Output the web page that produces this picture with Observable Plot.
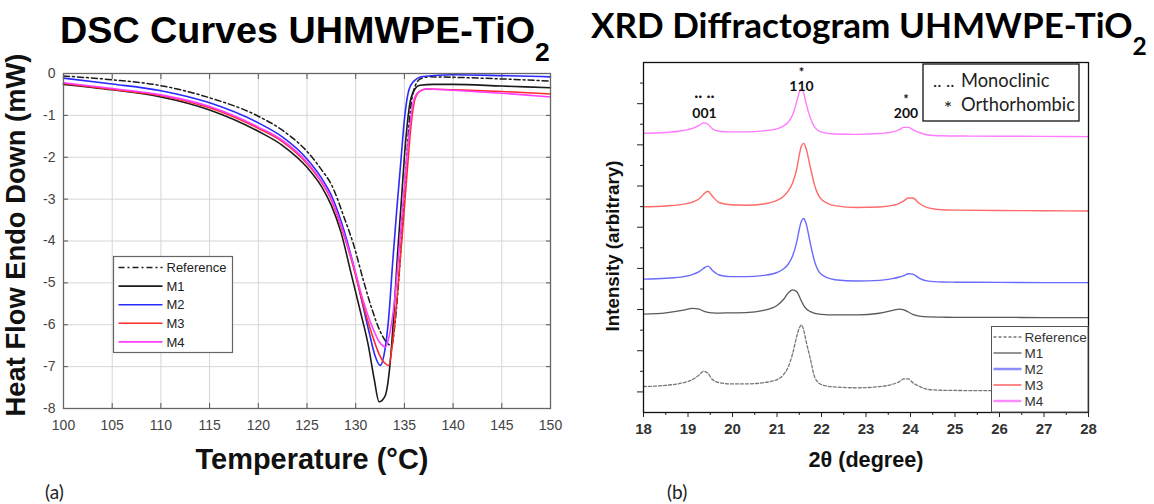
<!DOCTYPE html>
<html><head><meta charset="utf-8">
<script src="https://cdn.jsdelivr.net/npm/d3@7"></script>
<script src="https://cdn.jsdelivr.net/npm/@observablehq/plot@0.6"></script>
<style>
body{margin:0;background:#fff;}
#root{position:relative;width:1154px;height:504px;overflow:hidden;background:#fff;}
</style></head><body><div id="root"></div>
<script>
// ---------------- DSC data (panel a) ----------------
const dscSeries = ["Reference", "M1", "M2", "M3", "M4"];
const dscRefT = [100,105,110,115,120,122.5,125,126.5,127.5,128.8,129.8,130.8,131.7,132.5,133.1,133.7,134.0,134.4,134.8,135.2,135.6,136.1,136.7,137.5,140,145,150];
const dscRefV = [-0.06,-0.15,-0.29,-0.58,-1.02,-1.36,-1.86,-2.3,-2.65,-3.43,-4.1,-4.95,-5.65,-6.15,-6.4,-6.5,-6.05,-5.0,-3.6,-2.1,-0.9,-0.3,-0.12,-0.08,-0.09,-0.13,-0.18];
const dscM1T = [100,105,110,115,120,122.5,125,126.5,127.5,128.5,129.5,130.5,131.3,131.9,132.4,133.0,133.5,133.9,134.3,134.7,135.1,135.5,136.0,136.6,138,140,145,150];
const dscM1V = [-0.26,-0.39,-0.56,-0.87,-1.38,-1.72,-2.24,-2.7,-3.15,-3.8,-4.75,-5.7,-6.5,-7.3,-7.84,-7.71,-7.0,-5.8,-4.3,-3.0,-1.7,-0.8,-0.4,-0.28,-0.26,-0.26,-0.3,-0.34];
const dscM2T = [100,105,110,115,120,122.5,125,126.5,127.5,128.8,129.8,130.7,131.4,132.0,132.5,133.0,133.4,133.8,134.2,134.6,135.0,135.4,135.9,136.9,140,145,150];
const dscM2V = [-0.11,-0.25,-0.41,-0.70,-1.18,-1.52,-2.04,-2.5,-2.91,-3.75,-4.6,-5.5,-6.2,-6.75,-6.97,-6.6,-5.8,-4.5,-3.3,-2.2,-1.1,-0.45,-0.2,-0.07,-0.03,-0.05,-0.08];
const dscM3T = [100,105,110,115,120,122.5,125,126.5,127.5,128.8,129.8,130.8,131.7,132.4,133.0,133.4,133.8,134.3,134.8,135.3,135.7,136.1,136.6,137.3,140,145,150];
const dscM3V = [-0.24,-0.38,-0.53,-0.82,-1.31,-1.63,-2.15,-2.6,-3.02,-3.87,-4.65,-5.55,-6.25,-6.7,-6.92,-6.97,-6.4,-5.2,-3.8,-2.3,-1.2,-0.6,-0.42,-0.37,-0.39,-0.43,-0.49];
const dscM4T = [100,105,110,115,120,122.5,125,126.5,127.5,128.8,129.8,130.8,131.7,132.4,133.06,133.5,134.0,134.5,135.0,135.5,135.9,136.4,137.2,140,145,150];
const dscM4V = [-0.22,-0.36,-0.51,-0.79,-1.28,-1.6,-2.12,-2.58,-2.99,-3.83,-4.6,-5.45,-6.05,-6.4,-6.53,-6.2,-5.4,-4.1,-2.7,-1.4,-0.7,-0.45,-0.37,-0.4,-0.47,-0.56];
const dscXTicks = [100,105,110,115,120,125,130,135,140,145,150];
const dscYTicks = [0,-1,-2,-3,-4,-5,-6,-7,-8];

// ---------------- XRD data (panel b) ----------------
const xrdSeries = ["Reference", "M1", "M2", "M3", "M4"];
const xrdTheta = [18,18.5,18.9,19.1,19.25,19.35,19.45,19.55,19.7,19.95,20.3,20.7,21.0,21.15,21.25,21.35,21.45,21.5,21.55,21.6,21.65,21.75,21.85,22.0,22.3,22.8,23.3,23.6,23.75,23.85,23.95,24.05,24.2,24.4,24.7,25.0,26.0,27.0,28.0];
const xrdRef = [1.26,1.32,1.45,1.6,1.82,2.0,1.9,1.6,1.45,1.39,1.39,1.45,1.6,1.85,2.2,2.85,3.75,4.1,4.25,4.0,3.5,2.6,1.7,1.35,1.24,1.2,1.26,1.37,1.5,1.63,1.63,1.45,1.27,1.12,1.08,1.07,1.06,1.05,1.05];
const xrdM1 = [4.78,4.84,4.97,5.06,5.02,4.92,4.86,4.84,4.83,4.84,4.85,4.96,5.2,5.5,5.8,5.96,5.85,5.65,5.4,5.2,5.05,4.9,4.82,4.77,4.74,4.74,4.82,4.96,5.02,4.98,4.88,4.77,4.68,4.64,4.63,4.62,4.62,4.61,4.61];
const xrdM2 = [6.48,6.52,6.6,6.7,6.84,7.0,7.11,6.9,6.68,6.6,6.6,6.66,6.8,6.98,7.2,7.6,8.35,8.9,9.3,9.42,9.2,8.2,7.3,6.7,6.45,6.39,6.42,6.5,6.58,6.65,6.74,6.72,6.52,6.38,6.34,6.33,6.32,6.31,6.31];
const xrdM3 = [9.99,10.03,10.12,10.22,10.38,10.6,10.75,10.5,10.2,10.09,10.07,10.13,10.3,10.5,10.75,11.15,11.9,12.5,12.95,13.07,12.85,11.9,11.0,10.35,10.05,9.96,9.98,10.06,10.16,10.28,10.42,10.42,10.15,9.94,9.85,9.83,9.81,9.8,9.79];
const xrdM4 = [13.56,13.6,13.7,13.8,13.95,14.07,14.0,13.78,13.66,13.63,13.63,13.68,13.78,13.92,14.1,14.45,15.15,15.55,15.72,15.5,15.05,14.3,13.85,13.62,13.53,13.51,13.55,13.63,13.74,13.85,13.85,13.74,13.6,13.48,13.44,13.43,13.42,13.41,13.4];
const xrdXTicks = [18,19,20,21,22,23,24,25,26,27,28];
const xrdXMinor = [18.5,19.5,20.5,21.5,22.5,23.5,24.5,25.5,26.5,27.5];
const xrdYMajor = [1,3,5,7,9,11,13,15];
const xrdYMinor = [2,4,6,8,10,12,14,16];
const peakLabels = ["001", "110", "200"];
const peakTheta = [19.37, 21.55, 23.9];
const phaseMarks = [".. ..", "*", "*"];

// ---------------- build tables ----------------
const dscArrays = {Reference:[dscRefT,dscRefV], M1:[dscM1T,dscM1V], M2:[dscM2T,dscM2V], M3:[dscM3T,dscM3V], M4:[dscM4T,dscM4V]};
const dscRows = dscSeries.flatMap(s => dscArrays[s][0].map((t,i) => ({series:s, T:t, V:dscArrays[s][1][i]})));
const xrdArrays = {Reference:xrdRef, M1:xrdM1, M2:xrdM2, M3:xrdM3, M4:xrdM4};
const xrdRows = xrdSeries.flatMap(s => xrdTheta.map((t,i) => ({series:s, theta:t, I:xrdArrays[s][i]})));
const peakAnn = peakLabels.map((label,i) => ({label, mark: phaseMarks[i], theta: peakTheta[i]}));

const dscStyle = {
  Reference:{stroke:"#1a1a1a", strokeDasharray:"6,3,2,3", strokeWidth:1.5},
  M1:{stroke:"#1a1a1a", strokeWidth:1.6},
  M2:{stroke:"#2a2aff", strokeWidth:1.6},
  M3:{stroke:"#ff2a2a", strokeWidth:1.6},
  M4:{stroke:"#ff3cff", strokeWidth:1.6}
};
const xrdStyle = {
  Reference:{stroke:"#777", strokeDasharray:"3,2", strokeWidth:1.3},
  M1:{stroke:"#5a5a5a", strokeWidth:1.3},
  M2:{stroke:"#6a6aff", strokeWidth:1.4},
  M3:{stroke:"#ff6a6a", strokeWidth:1.4},
  M4:{stroke:"#ff7cff", strokeWidth:1.4}
};

const root = document.getElementById("root");
function place(svg, left){ svg.style.position="absolute"; svg.style.left=left+"px"; svg.style.top="0px"; root.appendChild(svg); }

// ---------------- DSC plot ----------------
const dscPlot = Plot.plot({
  width: 560, height: 504, marginLeft: 63, marginRight: 10, marginTop: 73, marginBottom: 96,
  x: {domain: [100, 150]}, y: {domain: [-8, 0]},
  style: {fontFamily: "'Liberation Sans', Arial, sans-serif", fontSize: "14px", color: "#444", background: "transparent", overflow: "visible"},
  marks: [
    Plot.gridX(dscXTicks, {stroke: "#d6d6d6", strokeOpacity: 1}),
    Plot.gridY(dscYTicks, {stroke: "#d6d6d6", strokeOpacity: 1}),
    ...dscSeries.map(s => Plot.line(dscRows.filter(d => d.series === s), {x: "T", y: "V", curve: "monotone-x", ...dscStyle[s]})),
    Plot.axisX({ticks: dscXTicks, tickSize: 0, tickPadding: 12, tickFormat: d => String(d), label: null}),
    Plot.axisY({ticks: dscYTicks, tickSize: 0, tickPadding: 8, tickFormat: d => String(d), label: null}),
    Plot.axisX({anchor: "bottom", ticks: dscXTicks, tickSize: 5, dy: -5, tickFormat: () => "", label: null, stroke: "#555"}),
    Plot.axisX({anchor: "top", ticks: dscXTicks, tickSize: 5, dy: 5, tickFormat: () => "", label: null, stroke: "#555"}),
    Plot.axisY({anchor: "left", ticks: dscYTicks, tickSize: 5, dx: 5, tickFormat: () => "", label: null, stroke: "#555"}),
    Plot.axisY({anchor: "right", ticks: dscYTicks, tickSize: 5, dx: -5, tickFormat: () => "", label: null, stroke: "#555"}),
    Plot.frame({stroke: "#666", strokeWidth: 1.3})
  ]
});
place(dscPlot, 0);

// ---------------- XRD plot ----------------
const annFont = {fontFamily: "Lato, 'Open Sans', sans-serif", fontWeight: "bold", fill: "#111"};
const xrdPlot = Plot.plot({
  width: 574, height: 504, marginLeft: 63, marginRight: 66, marginTop: 62, marginBottom: 92,
  x: {domain: [18, 28]}, y: {domain: [0, 17]},
  style: {fontFamily: "'Liberation Sans', Arial, sans-serif", fontSize: "15px", color: "#222", background: "transparent", overflow: "visible"},
  marks: [
    ...xrdSeries.map(s => Plot.line(xrdRows.filter(d => d.series === s), {x: "theta", y: "I", curve: "monotone-x", ...xrdStyle[s]})),
    Plot.axisX({ticks: xrdXTicks, tickSize: 5, tickPadding: 6, tickFormat: d => String(d), label: null, fontWeight: "bold", fill: "#333"}),
    Plot.axisX({ticks: xrdXMinor, tickSize: 3, tickFormat: () => "", label: null}),
    Plot.axisY({ticks: xrdYMajor, tickSize: 6, tickFormat: () => "", label: null}),
    Plot.axisY({ticks: xrdYMinor, tickSize: 3, tickFormat: () => "", label: null}),
    Plot.frame({stroke: "#111", strokeWidth: 1.3}),
    Plot.text(peakAnn.filter(d => d.label !== "110"), {x: "theta", text: "label", frameAnchor: "top", dy: 46, fontSize: 14, ...annFont}),
    Plot.text(peakAnn.filter(d => d.label === "110"), {x: "theta", text: "label", frameAnchor: "top", dy: 19, fontSize: 14, ...annFont}),
    Plot.text(peakAnn.filter(d => d.label === "110"), {x: "theta", text: "mark", frameAnchor: "top", dy: 5, fontSize: 13, ...annFont}),
    Plot.text(peakAnn.filter(d => d.label === "200"), {x: "theta", text: "mark", frameAnchor: "top", dy: 32, fontSize: 13, ...annFont}),
    Plot.text(peakAnn.filter(d => d.label === "001"), {x: "theta", text: "mark", frameAnchor: "top", dy: 23, fontSize: 17, ...annFont})
  ]
});
place(xrdPlot, 580);

// ---------------- overlay: titles, labels, legends ----------------
const ov = d3.select(root).append("svg").attr("width", 1154).attr("height", 504)
  .style("position", "absolute").style("left", "0px").style("top", "0px");
function fit(sel, target){ const w = sel.node().getComputedTextLength(); const fs = parseFloat(sel.attr("font-size")); sel.attr("font-size", fs * target / w); return sel; }
const ARIAL = "'Liberation Sans', Arial, sans-serif";
const CAL = "Lato, 'Open Sans', sans-serif";

const t1 = ov.append("text").attr("x", 60).attr("y", 43).attr("font-family", ARIAL).attr("font-weight", "bold").attr("font-size", 37).attr("fill", "#000");
t1.append("tspan").text("DSC Curves UHMWPE-TiO");
t1.append("tspan").attr("font-size", "70%").attr("dy", "0.68em").text("2");
fit(t1, 490);

const t2 = ov.append("text").attr("x", 591).attr("y", 38).attr("font-family", CAL).attr("font-weight", "bold").attr("font-size", 31).attr("fill", "#000");
t2.append("tspan").text("XRD Diffractogram UHMWPE-TiO");
t2.append("tspan").attr("font-size", "70%").attr("dy", "0.68em").text("2");
fit(t2, 556);

fit(ov.append("text").attr("transform", "translate(25,235) rotate(-90)").attr("text-anchor", "middle")
  .attr("font-family", ARIAL).attr("font-weight", "bold").attr("font-size", 27).attr("fill", "#111").text("Heat Flow Endo Down (mW)"), 363);
fit(ov.append("text").attr("x", 312).attr("y", 469).attr("text-anchor", "middle")
  .attr("font-family", ARIAL).attr("font-weight", "bold").attr("font-size", 28).attr("fill", "#111").text("Temperature (°C)"), 233);
fit(ov.append("text").attr("transform", "translate(619,246) rotate(-90)").attr("text-anchor", "middle")
  .attr("font-family", ARIAL).attr("font-weight", "bold").attr("font-size", 18).attr("fill", "#111").text("Intensity (arbitrary)"), 171);
fit(ov.append("text").attr("x", 866).attr("y", 467).attr("text-anchor", "middle")
  .attr("font-family", ARIAL).attr("font-weight", "bold").attr("font-size", 19).attr("fill", "#111").text("2θ (degree)"), 115);
ov.append("text").attr("x", 45).attr("y", 499).attr("font-family", CAL).attr("font-size", 19).attr("fill", "#222").text("(a)");
ov.append("text").attr("x", 667).attr("y", 499).attr("font-family", CAL).attr("font-size", 19).attr("fill", "#222").text("(b)");

// DSC legend
const lg1 = ov.append("g").attr("transform", "translate(113.5,256.5)");
lg1.append("rect").attr("width", 119).attr("height", 96).attr("fill", "#fff").attr("stroke", "#666").attr("stroke-width", 1.2);
dscSeries.forEach((s, i) => {
  const y = 11 + i * 18.6;
  const st = dscStyle[s];
  lg1.append("line").attr("x1", 5).attr("x2", 49).attr("y1", y).attr("y2", y).attr("stroke", st.stroke).attr("stroke-width", st.strokeWidth).attr("stroke-dasharray", st.strokeDasharray || null);
  lg1.append("text").attr("x", 53).attr("y", y + 4.6).attr("font-family", ARIAL).attr("font-size", 13).attr("fill", "#222").text(s);
});

// XRD phase legend
const lg2 = ov.append("g").attr("transform", "translate(923,64)");
lg2.append("rect").attr("width", 156).attr("height", 57).attr("fill", "#fff").attr("stroke", "#111").attr("stroke-width", 1.3);
lg2.append("text").attr("x", 10).attr("y", 23).attr("font-family", CAL).attr("font-size", 18).attr("fill", "#222").text(phaseMarks[0]);
const mono = lg2.append("text").attr("x", 38).attr("y", 23).attr("font-family", CAL).attr("font-size", 18).attr("fill", "#222").text("Monoclinic");
lg2.append("text").attr("x", 25).attr("y", 51).attr("text-anchor", "middle").attr("font-family", CAL).attr("font-size", 20).attr("fill", "#222").text(phaseMarks[1]);
const ortho = lg2.append("text").attr("x", 38).attr("y", 47).attr("font-family", CAL).attr("font-size", 18).attr("fill", "#222").text("Orthorhombic");
fit(ortho, 114); mono.attr("font-size", ortho.attr("font-size"));

// XRD series legend
const lg3 = ov.append("g").attr("transform", "translate(991.5,326.5)");
lg3.append("rect").attr("width", 96.5).attr("height", 85.5).attr("fill", "#fff").attr("stroke", "#555").attr("stroke-width", 1);
const lg3Style = {Reference: xrdStyle.Reference, M1: xrdStyle.M1, M2: {stroke: "#8c8cff", strokeWidth: 2.5}, M3: {stroke: "#ff6060", strokeWidth: 1.5}, M4: {stroke: "#ff8cff", strokeWidth: 2.5}};
xrdSeries.forEach((s, i) => {
  const y = 10.5 + i * 16;
  const st = lg3Style[s];
  lg3.append("line").attr("x1", 2).attr("x2", 30).attr("y1", y).attr("y2", y).attr("stroke", st.stroke).attr("stroke-width", st.strokeWidth).attr("stroke-dasharray", st.strokeDasharray || null);
  lg3.append("text").attr("x", 33).attr("y", y + 4.8).attr("font-family", ARIAL).attr("font-size", 13.5).attr("fill", "#333").text(s);
});
</script></body></html>
